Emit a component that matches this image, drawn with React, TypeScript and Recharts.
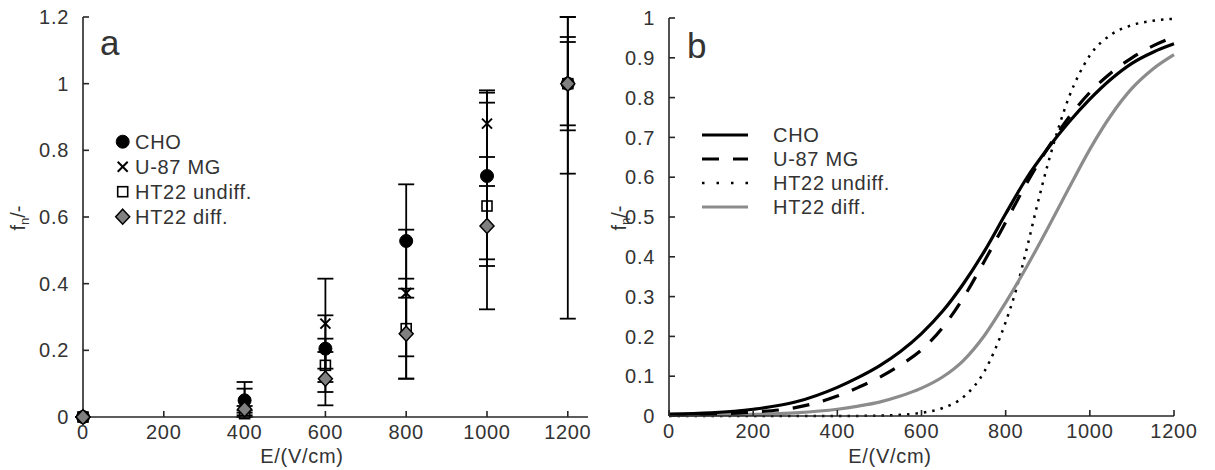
import React from 'react';
import {
  ScatterChart,
  Scatter,
  XAxis,
  YAxis,
  ErrorBar,
  LineChart,
  Line,
  Customized,
} from 'recharts';

const FONT = '"Liberation Sans", Arial, Helvetica, sans-serif';
const AXIS = '#262626';
const TEXT = '#333333';
const FS = 20;
const LS = 0.7;

// ---------- Panel a: measured fractions ----------
const fieldStrengths = [0, 400, 600, 800, 1000, 1200];
const choMean = [0, 0.05, 0.205, 0.528, 0.723, 1.0];
const choErrLow = [0, 0.05, 0.1, 0.17, 0.25, 0.27];
const choErrHigh = [0, 0.055, 0.1, 0.17, 0.25, 0.2]; // upper whisker runs off the top of the axis
const u87Mean = [0, 0.045, 0.28, 0.372, 0.88, 1.0];
const u87ErrLow = [0, 0.04, 0.135, 0.19, 0.1, 0.705];
const u87ErrHigh = [0, 0.04, 0.135, 0.19, 0.1, 0.2]; // upper whisker runs off the top of the axis
const ht22uMean = [0, 0.01, 0.155, 0.265, 0.633, 1.0];
const ht22uErrLow = [0, 0.01, 0.08, 0.15, 0.31, 0.14];
const ht22uErrHigh = [0, 0.01, 0.08, 0.15, 0.31, 0.14];
const ht22dMean = [0, 0.023, 0.115, 0.25, 0.573, 1.0];
const ht22dErrLow = [0, 0.01, 0.08, 0.135, 0.12, 0.125];
const ht22dErrHigh = [0, 0.01, 0.08, 0.135, 0.12, 0.125];

const xTicks = [0, 200, 400, 600, 800, 1000, 1200];
const leftYTicks = [0, 0.2, 0.4, 0.6, 0.8, 1, 1.2];
const rightYTicks = [0, 0.1, 0.2, 0.3, 0.4, 0.5, 0.6, 0.7, 0.8, 0.9, 1];

// ---------- Panel b: fitted curves ----------
const fitE = [0, 100, 200, 300, 400, 450, 500, 550, 600, 650, 700, 750, 800, 850, 900, 950, 1000, 1050, 1100, 1150, 1200];
const choFit = [0.005, 0.008, 0.017, 0.035, 0.072, 0.097, 0.126, 0.162, 0.207, 0.263, 0.333, 0.415, 0.508, 0.598, 0.672, 0.738, 0.796, 0.846, 0.886, 0.914, 0.935];
const u87Fit = [0.003, 0.005, 0.01, 0.021, 0.05, 0.072, 0.097, 0.128, 0.166, 0.222, 0.298, 0.39, 0.487, 0.585, 0.673, 0.75, 0.813, 0.862, 0.9, 0.93, 0.953];
const ht22dFit = [0.002, 0.003, 0.004, 0.008, 0.017, 0.025, 0.035, 0.05, 0.07, 0.098, 0.14, 0.203, 0.285, 0.375, 0.472, 0.572, 0.67, 0.755, 0.823, 0.872, 0.908];
const ht22uE = [0, 100, 200, 300, 400, 500, 550, 600, 650, 700, 750, 800, 825, 850, 875, 900, 925, 950, 975, 1000, 1050, 1100, 1150, 1200];
const ht22uFit = [0, 0, 0, 0, 0, 0.001, 0.003, 0.008, 0.02, 0.048, 0.113, 0.236, 0.318, 0.42, 0.53, 0.632, 0.722, 0.8, 0.86, 0.906, 0.958, 0.982, 0.993, 0.998];

const pts = (xs: number[], ys: number[]) => xs.map((x, i) => ({ x, y: ys[i] }));
const ptsErr = (xs: number[], ys: number[], lo: number[], hi: number[]) =>
  xs.map((x, i) => ({ x, y: ys[i], err: [lo[i], hi[i]] }));

const fmt = (v: number) => String(Number(v.toFixed(1)));

// ---------- markers ----------
const CircleMark = (p: any) => <circle cx={p.cx} cy={p.cy} r={6.5} fill="#000" stroke="#000" strokeWidth={1} />;
const CrossMark = (p: any) => {
  const s = 5;
  return (
    <g stroke="#000" strokeWidth={2}>
      <line x1={p.cx - s} y1={p.cy - s} x2={p.cx + s} y2={p.cy + s} />
      <line x1={p.cx - s} y1={p.cy + s} x2={p.cx + s} y2={p.cy - s} />
    </g>
  );
};
const SquareMark = (p: any) => (
  <rect x={p.cx - 5} y={p.cy - 5} width={10} height={10} fill="none" stroke="#000" strokeWidth={1.6} />
);
const DiamondMark = (p: any) => {
  const w = 7, h = 7.5;
  return (
    <polygon
      points={`${p.cx},${p.cy - h} ${p.cx + w},${p.cy} ${p.cx},${p.cy + h} ${p.cx - w},${p.cy}`}
      fill="#808080"
      stroke="#000"
      strokeWidth={1.5}
    />
  );
};

const tickStyle = { fill: TEXT, fontSize: FS, fontFamily: FONT, letterSpacing: LS };
const axisLineStyle = { stroke: AXIS, strokeWidth: 1.6 };

const legendA = ['CHO', 'U-87 MG', 'HT22 undiff.', 'HT22 diff.'];
const legendB = ['CHO', 'U-87 MG', 'HT22 undiff.', 'HT22 diff.'];

const YTitle = ({ x, y }: { x: number; y: number }) => (
  <text
    transform={`rotate(-90 ${x} ${y})`}
    x={x}
    y={y}
    textAnchor="middle"
    fontFamily={FONT}
    fontSize={FS}
    fill={TEXT}
  >
    f<tspan fontSize={13} dy={4}>n</tspan>
    <tspan dy={-4}>/-</tspan>
  </text>
);

const PanelAExtras = () => {
  const rows = [141.7, 166.7, 191.7, 216.7];
  const marks = [CircleMark, CrossMark, SquareMark, DiamondMark];
  return (
    <g>
      <text x={100} y={55} fontFamily={FONT} fontSize={35} fill={TEXT}>a</text>
      {legendA.map((name, i) => {
        const M = marks[i];
        return (
          <g key={name}>
            <M cx={122.7} cy={rows[i]} />
            <text x={135} y={rows[i]} dy="0.36em" fontFamily={FONT} fontSize={FS} letterSpacing={LS} fill={TEXT}>{name}</text>
          </g>
        );
      })}
      <text x={302} y={463} textAnchor="middle" fontFamily={FONT} fontSize={FS} letterSpacing={LS} fill={TEXT}>E/(V/cm)</text>
      <YTitle x={25} y={218} />
    </g>
  );
};

const lineStyles = [
  { stroke: '#000', dash: undefined as string | undefined, w: 3.2 },
  { stroke: '#000', dash: '17 14', w: 3.2 },
  { stroke: '#000', dash: '2.5 12', w: 2.5 },
  { stroke: '#8c8c8c', dash: undefined as string | undefined, w: 3.2 },
];

const PanelBExtras = () => {
  const rows = [135, 159, 183, 207];
  return (
    <g>
      <text x={87} y={58} fontFamily={FONT} fontSize={35} fill={TEXT}>b</text>
      {legendB.map((name, i) => (
        <g key={name}>
          <line
            x1={102}
            x2={148}
            y1={rows[i]}
            y2={rows[i]}
            stroke={lineStyles[i].stroke}
            strokeWidth={lineStyles[i].w}
            strokeDasharray={lineStyles[i].dash}
          />
          <text x={173} y={rows[i]} dy="0.36em" fontFamily={FONT} fontSize={FS} letterSpacing={LS} fill={TEXT}>{name}</text>
        </g>
      ))}
      <text x={290} y={463} textAnchor="middle" fontFamily={FONT} fontSize={FS} letterSpacing={LS} fill={TEXT}>E/(V/cm)</text>
      <YTitle x={26} y={218} />
    </g>
  );
};

export default function App() {
  return (
    <div style={{ position: 'absolute', left: 0, top: 0, width: 1215, height: 470, background: '#fff' }}>
      <div style={{ position: 'absolute', left: 0, top: 0 }}>
        <ScatterChart width={600} height={470} margin={{ top: 17, right: 12, bottom: 23, left: 0 }}>
          <XAxis
            dataKey="x"
            type="number"
            domain={[0, 1250]}
            ticks={xTicks}
            interval={0}
            height={30}
            tickSize={-6}
            tickMargin={14}
            tick={tickStyle}
            axisLine={axisLineStyle}
            tickLine={axisLineStyle}
          />
          <XAxis
            xAxisId="top"
            orientation="top"
            type="number"
            domain={[0, 1250]}
            ticks={xTicks}
            interval={0}
            height={0}
            tickSize={-6}
            tick={false}
            axisLine={axisLineStyle}
            tickLine={axisLineStyle}
          />
          <YAxis
            dataKey="y"
            type="number"
            domain={[0, 1.2]}
            ticks={leftYTicks}
            interval={0}
            width={83}
            tickSize={-6}
            tickMargin={20}
            tickFormatter={fmt}
            tick={tickStyle}
            axisLine={axisLineStyle}
            tickLine={axisLineStyle}
          />
          <YAxis
            yAxisId="right"
            orientation="right"
            type="number"
            domain={[0, 1.2]}
            ticks={leftYTicks}
            interval={0}
            width={0}
            tickSize={-6}
            tick={false}
            axisLine={axisLineStyle}
            tickLine={axisLineStyle}
          />
          <Scatter name="CHO" data={ptsErr(fieldStrengths, choMean, choErrLow, choErrHigh)} shape={CircleMark} isAnimationActive={false}>
            <ErrorBar dataKey="err" direction="y" width={8} stroke="#000" strokeWidth={1.8} />
          </Scatter>
          <Scatter name="U-87 MG" data={ptsErr(fieldStrengths, u87Mean, u87ErrLow, u87ErrHigh)} shape={CrossMark} isAnimationActive={false}>
            <ErrorBar dataKey="err" direction="y" width={8} stroke="#000" strokeWidth={1.8} />
          </Scatter>
          <Scatter name="HT22 undiff." data={ptsErr(fieldStrengths, ht22uMean, ht22uErrLow, ht22uErrHigh)} shape={SquareMark} isAnimationActive={false}>
            <ErrorBar dataKey="err" direction="y" width={8} stroke="#000" strokeWidth={1.8} />
          </Scatter>
          <Scatter name="HT22 diff." data={ptsErr(fieldStrengths, ht22dMean, ht22dErrLow, ht22dErrHigh)} shape={DiamondMark} isAnimationActive={false}>
            <ErrorBar dataKey="err" direction="y" width={8} stroke="#000" strokeWidth={1.8} />
          </Scatter>
          <Customized component={PanelAExtras} />
        </ScatterChart>
      </div>
      <div style={{ position: 'absolute', left: 600, top: 0 }}>
        <LineChart width={615} height={470} margin={{ top: 18, right: 41, bottom: 24, left: 0 }}>
          <XAxis
            dataKey="x"
            type="number"
            domain={[0, 1200]}
            ticks={xTicks}
            interval={0}
            height={30}
            tickSize={-6}
            tickMargin={14}
            tick={tickStyle}
            axisLine={axisLineStyle}
            tickLine={axisLineStyle}
          />
          <XAxis
            xAxisId="top"
            orientation="top"
            type="number"
            domain={[0, 1200]}
            ticks={xTicks}
            interval={0}
            height={0}
            tickSize={-6}
            tick={false}
            axisLine={axisLineStyle}
            tickLine={axisLineStyle}
          />
          <YAxis
            type="number"
            domain={[0, 1]}
            ticks={rightYTicks}
            interval={0}
            width={69}
            tickSize={-6}
            tickMargin={20}
            tickFormatter={fmt}
            tick={tickStyle}
            axisLine={axisLineStyle}
            tickLine={axisLineStyle}
          />
          <YAxis
            yAxisId="right"
            orientation="right"
            type="number"
            domain={[0, 1]}
            ticks={rightYTicks}
            interval={0}
            width={0}
            tickSize={-6}
            tick={false}
            axisLine={axisLineStyle}
            tickLine={axisLineStyle}
          />
          <Line data={pts(ht22uE, ht22uFit)} dataKey="y" type="monotone" dot={false} stroke="#000" strokeWidth={2.5} strokeDasharray="2.5 6" isAnimationActive={false} />
          <Line data={pts(fitE, ht22dFit)} dataKey="y" type="monotone" dot={false} stroke="#8c8c8c" strokeWidth={3.2} isAnimationActive={false} />
          <Line data={pts(fitE, u87Fit)} dataKey="y" type="monotone" dot={false} stroke="#000" strokeWidth={3.2} strokeDasharray="17 14" isAnimationActive={false} />
          <Line data={pts(fitE, choFit)} dataKey="y" type="monotone" dot={false} stroke="#000" strokeWidth={3.2} isAnimationActive={false} />
          <Customized component={PanelBExtras} />
        </LineChart>
      </div>
    </div>
  );
}
